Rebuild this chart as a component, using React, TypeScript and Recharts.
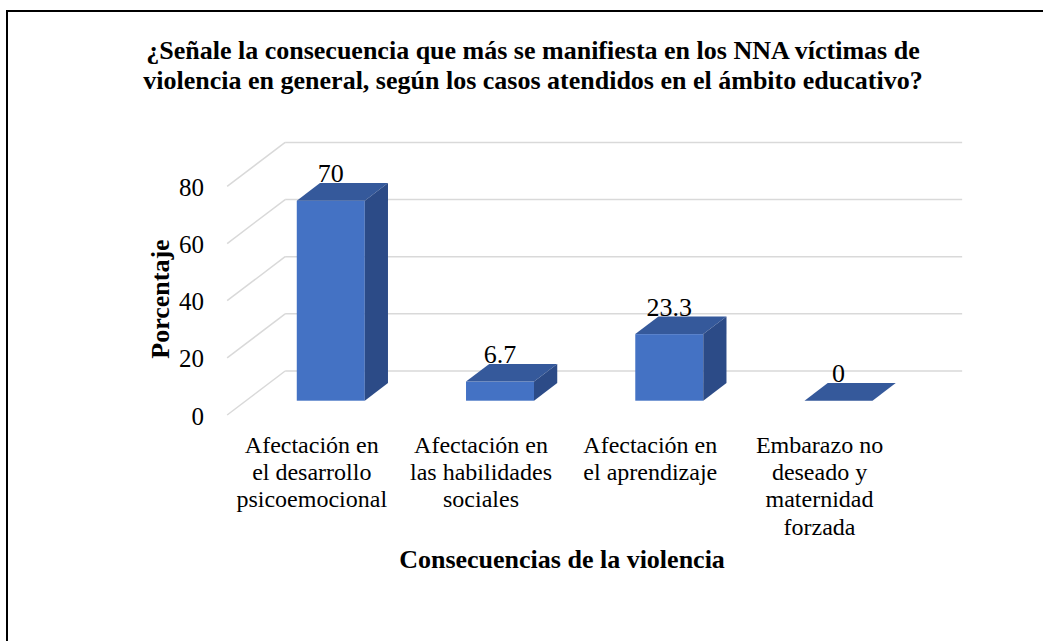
import React from 'react';
import { Bar, BarChart, CartesianGrid, LabelList, XAxis, YAxis } from 'recharts';

const categories = [
	'Afectación en\nel desarrollo\npsicoemocional',
	'Afectación en\nlas habilidades\nsociales',
	'Afectación en\nel aprendizaje',
	'Embarazo no\ndeseado y\nmaternidad\nforzada'
];
const percentages = [70, 6.7, 23.3, 0];
const yTicks = [0, 20, 40, 60, 80];
const titleLines = [
	'¿Señale la consecuencia que más se manifiesta en los NNA víctimas de',
	'violencia en general, según los casos atendidos en el ámbito educativo?'
];

const data = categories.map((name, i) => ({ name, value: percentages[i] }));

const FONT = 'Liberation Serif, Times New Roman, Tinos, serif';
const W = 1043;
const H = 641;

// 3D depth: full wall depth, bars sit between FRONT and FRONT+BAR of it
const DEPTH_X = 58;
const DEPTH_Y = 44;
const FRONT = 0.325;
const BAR = 0.4;
const BDX = DEPTH_X * BAR;
const BDY = DEPTH_Y * BAR;
const SHIFT_X = DEPTH_X * FRONT;
const SHIFT_Y = DEPTH_Y * FRONT;

const colors = {
	front: '#4472C4',
	top: '#35599B',
	side: '#2C4B87',
	grid: '#D9D9D9',
	text: '#000000'
};

const txt = (size: number, bold = false): React.CSSProperties => ({
	fontFamily: FONT,
	fontSize: size,
	fontWeight: bold ? 'bold' : 'normal',
	fill: colors.text
});

const Bar3D = (props: any) => {
	const { x, y, width, height } = props;
	const w = width;
	const h = Math.max(0, height);
	return (
		<g>
			{h > 0 && (
				<rect
					x={x}
					y={y}
					width={w}
					height={h}
					fill={colors.front}
				/>
			)}
			<polygon
				points={`${x},${y} ${x + BDX},${y - BDY} ${x + w + BDX},${y - BDY} ${x + w},${y}`}
				fill={colors.top}
			/>
			{h > 0 && (
				<polygon
					points={`${x + w},${y} ${x + w + BDX},${y - BDY} ${x + w + BDX},${y + h - BDY} ${x + w},${y + h}`}
					fill={colors.side}
				/>
			)}
		</g>
	);
};

const GridLine3D = (props: any) => {
	const { x1, x2, y1 } = props;
	const fx = x1 - SHIFT_X;
	const fy = y1 + SHIFT_Y;
	const bx = fx + DEPTH_X;
	const by = fy - DEPTH_Y;
	const bxr = x2 - SHIFT_X + DEPTH_X;
	return (
		<g key={props.key}>
			<line
				x1={fx}
				y1={fy}
				x2={bx}
				y2={by}
				stroke={colors.grid}
				strokeWidth={1.5}
			/>
			<line
				x1={bx}
				y1={by}
				x2={bxr}
				y2={by}
				stroke={colors.grid}
				strokeWidth={1.5}
			/>
		</g>
	);
};

const YTick = (props: any) => {
	const { y, payload } = props;
	return (
		<text
			x={204}
			y={y + SHIFT_Y + 9.5}
			textAnchor='end'
			style={txt(25)}
		>
			{payload.value}
		</text>
	);
};

const XTick = (props: any) => {
	const { x, y, payload } = props;
	const lines = String(payload.value).split('\n');
	return (
		<text
			x={x - SHIFT_X}
			y={y}
			textAnchor='middle'
			style={txt(24)}
		>
			{lines.map((l, i) => (
				<tspan
					key={l}
					x={x - SHIFT_X}
					y={y + 44 + i * 27.3}
				>
					{l}
				</tspan>
			))}
		</text>
	);
};

const ValueLabel = (props: any) => {
	const { x, y, width, value } = props;
	return (
		<text
			x={x + width / 2}
			y={y - BDY - 1}
			textAnchor='middle'
			style={txt(26)}
		>
			{value}
		</text>
	);
};

export default function App() {
	return (
		<div style={{ position: 'absolute', left: 0, top: 0, width: W, height: H, overflow: 'hidden', background: '#fff' }}>
			<div style={{ position: 'absolute', left: 6, top: 10, width: W + 40, height: H + 40, border: '2px solid #000', boxSizing: 'border-box' }} />
			<svg
				width={W}
				height={110}
				style={{ position: 'absolute', left: 0, top: 0 }}
			>
				{titleLines.map((t, i) => (
					<text
						key={t}
						x={533}
						y={59 + i * 30}
						textAnchor='middle'
						style={txt(26, true)}
					>
						{t}
					</text>
				))}
			</svg>
			<div style={{ position: 'absolute', left: 0, top: 0 }}>
				<BarChart
					width={W}
					height={H}
					data={data}
					margin={{ top: 172.1, right: 120, bottom: 40.3, left: 186 }}
					barCategoryGap='30%'
				>
					<CartesianGrid
						vertical={false}
						horizontal={GridLine3D}
					/>
					<XAxis
						dataKey='name'
						height={200}
						axisLine={false}
						tickLine={false}
						tick={XTick}
						interval={0}
						label={{
							value: 'Consecuencias de la violencia',
							position: 'insideTop',
							content: () => (
								<text
									x={562}
									y={568}
									textAnchor='middle'
									style={txt(26, true)}
								>
									Consecuencias de la violencia
								</text>
							)
						}}
					/>
					<YAxis
						width={60}
						domain={[0, 80]}
						ticks={yTicks}
						axisLine={false}
						tickLine={false}
						tick={YTick}
						label={{
							value: 'Porcentaje',
							position: 'center',
							content: () => (
								<text
									x={160}
									y={299}
									transform='rotate(-90 160 299)'
									textAnchor='middle'
									dominantBaseline='central'
									style={txt(26, true)}
								>
									Porcentaje
								</text>
							)
						}}
					/>
					<Bar
						dataKey='value'
						shape={Bar3D}
						isAnimationActive={false}
					>
						<LabelList
							dataKey='value'
							content={ValueLabel}
						/>
					</Bar>
				</BarChart>
			</div>
		</div>
	);
}
